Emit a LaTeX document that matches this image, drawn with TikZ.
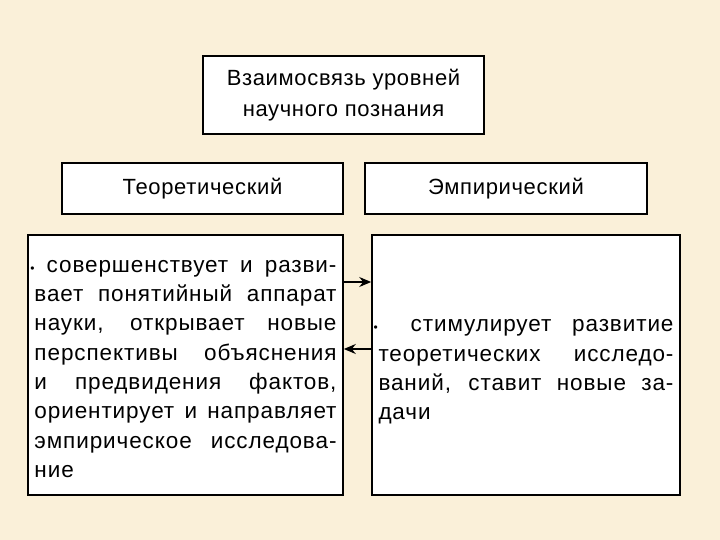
\documentclass[tikz,border=0pt]{standalone}
\usepackage{fontspec}
\setmainfont{Liberation Sans}
\newfontfamily\headfont[LetterSpace=3]{Liberation Sans}
\newfontfamily\bodyfont[LetterSpace=4]{Liberation Sans}
\usetikzlibrary{arrows.meta}
\definecolor{paper}{RGB}{250,240,217}
\tikzset{
  box/.style={draw=black,line width=1.6bp,fill=white,inner sep=0pt,align=center,font=\headfont\fontsize{22bp}{31bp}\selectfont},
  txtbox/.style={inner sep=0pt,align=justify,text width=#1,font=\bodyfont\fontsize{22.5bp}{29.3bp}\selectfont},
  link/.style={line width=1.6bp,-{Stealth[length=12bp,width=10bp,inset=4bp]}}
}

\begin{document}
\begin{tikzpicture}[x=1bp,y=-1bp]
	\fill[paper] (0,0) rectangle (720,540);
	\useasboundingbox (0,0) rectangle (720,540);

	\coordinate (T) at (343.5,95);
	\coordinate (L) at (202.5,188.5);
	\coordinate (R) at (506,188.5);
	\coordinate (LB) at (185.5,365);
	\coordinate (RB) at (526,365);

	\node[box,minimum width=281bp,minimum height=78bp] (top) at (T) {Взаимосвязь уровней\\научного познания};

	\node[box,minimum width=281bp,minimum height=51bp] (theor) at (L) {Теоретический};
	\node[box,minimum width=282bp,minimum height=51bp] (emp) at (R) {Эмпирический};

	\node[box,minimum width=315bp,minimum height=260bp] (left) at (LB) {};
	\node[txtbox=302bp] (lefttxt) at ([yshift=-4bp]LB)
	{\hspace*{-4bp}{\fontsize{12bp}{12bp}\selectfont\textbullet}\ совершенствует и разви-\linebreak вает понятийный аппарат науки, открывает новые перспективы объяснения и предвидения фактов, ориентирует и направляет эмпирическое исследова-\linebreak ние};

	\node[box,minimum width=308bp,minimum height=260bp] (right) at (RB) {};
	\node[txtbox=295bp] (righttxt) at ([yshift=-7bp]RB)
	{\hspace*{-5bp}{\fontsize{12bp}{12bp}\selectfont\textbullet}\hspace{33bp}стимулирует развитие теоретических исследо-\linebreak ваний, ставит новые за-\linebreak дачи};

	\coordinate (up) at (0,282);
	\coordinate (down) at (0,349);
	\draw[link] (left.east |- up) -- (right.west |- up);
	\draw[link] (right.west |- down) -- (left.east |- down);
\end{tikzpicture}
\end{document}
